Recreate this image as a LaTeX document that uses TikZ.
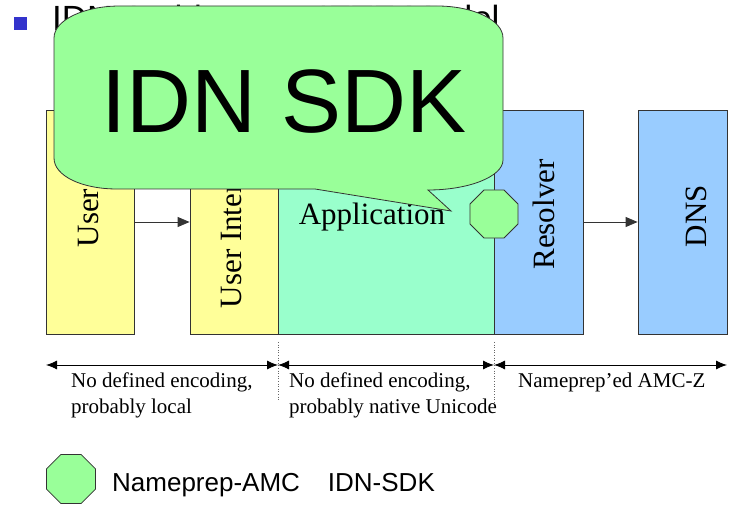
\documentclass[tikz,border=0pt]{standalone}
\usepackage{fontspec}
\setmainfont{Liberation Serif}
\newfontfamily\arialfont{Liberation Sans}
\usepackage{tikz}
\usetikzlibrary{arrows.meta,shapes.geometric}
\definecolor{uiyellow}{HTML}{FFFF99}
\definecolor{appgreen}{HTML}{99FFCC}
\definecolor{netblue}{HTML}{99CCFF}
\definecolor{sdkgreen}{HTML}{99FF99}
\definecolor{bullet}{HTML}{3333CC}
\definecolor{edge}{HTML}{333333}
\tikzset{
  layer/.style={draw=edge, line width=0.8pt, minimum height=224pt, inner sep=0pt},
  boxlab/.style={font=\fontsize{31}{36}\selectfont, inner sep=0pt},
  vlab/.style={boxlab, rotate=90},
  flow/.style={draw=edge, line width=0.8pt, -{Triangle[length=12pt,width=10pt]}},
  span/.style={draw=black, line width=0.9pt, {Latex[length=11pt,width=9pt]}-{Latex[length=11pt,width=9pt]}},
  sep/.style={draw=black!60, dotted, line width=0.6pt},
  enc/.style={font=\fontsize{21}{26}\selectfont, align=left, inner sep=0pt, anchor=base west},
  octa/.style={regular polygon, regular polygon sides=8, draw=edge, line width=0.8pt,
    fill=sdkgreen, inner sep=0pt, minimum size=52pt},
  callout/.style={draw=edge, line width=0.8pt, fill=sdkgreen},
}

\begin{document}
\begin{tikzpicture}[x=1pt, y=-1pt]
  \useasboundingbox (0,0) rectangle (732,510);

  % title, mostly covered later
  \node[fill=bullet, inner sep=0pt, minimum size=13pt] (dot) at (20.5,23.5) {};
  \node[anchor=base west, inner sep=0pt, font=\arialfont\fontsize{35}{42}\selectfont]
    (title) at (52,31) {IDN Architecture IETF Model};

  % layers
  \node[layer, fill=uiyellow, minimum width=88pt] (user) at (90,222) {};
  \node[layer, fill=uiyellow, minimum width=88pt] (ui) at (234,222) {};
  \node[layer, fill=appgreen, minimum width=216pt] (app) at (386,222) {};
  \node[layer, fill=netblue, minimum width=89pt] (res) at (538.5,222) {};
  \node[layer, fill=netblue, minimum width=89pt] (dns) at (682.5,222) {};

  \node[vlab] (userlab) at (89,218) {User};
  \node[vlab] (uilab) at (231,220) {User Interface};
  \node[boxlab, anchor=base] (applab) at (372,225) {Application};
  \node[vlab] (reslab) at (544,214.5) {Resolver};
  \node[vlab] (dnslab) at (696,216) {DNS};

  \draw[flow] (user.east) -- (ui.west);
  \draw[flow] (res.east) -- (dns.west);

  \node[octa] (amc) at (494,214) {};

  % encoding spans
  \coordinate (s0) at (46,365);
  \coordinate (s1) at (278,365);
  \coordinate (s2) at (494,365);
  \coordinate (s3) at (727,365);
  \draw[span] (s0) -- (s1);
  \draw[span] (s1) -- (s2);
  \draw[span] (s2) -- (s3);
  \draw[sep] (278,342) -- (278,400);
  \draw[sep] (494,342) -- (494,404);

  \node[enc] (enc1) at (71,414) {No defined encoding,\\probably local};
  \node[enc] (enc2) at (289,414) {No defined encoding,\\probably native Unicode};
  \node[enc] (enc3) at (518,388) {Nameprep'ed AMC-Z};

  % legend
  \node[octa, minimum size=53pt] (legamc) at (71,479) {};
  \node[anchor=base west, inner sep=0pt, font=\arialfont\fontsize{26}{30}\selectfont]
    (legtxt) at (112,492) {Nameprep-AMC\hspace{28pt}IDN-SDK};

  % speech bubble
  \draw[callout] (54,38) .. controls (54,20) and (84,6) .. (120,6)
    -- (437,6) .. controls (473,6) and (503,20) .. (503,38)
    -- (503,160) .. controls (503,176.5) and (469,190) .. (428,190)
    -- (451,211) -- (315,189)
    -- (117,189) .. controls (82,189) and (54,176) .. (54,158) -- cycle;
  \node[inner sep=0pt, font=\arialfont\fontsize{90}{96}\selectfont] (sdk) at (284,101.5) {IDN SDK};
\end{tikzpicture}
\end{document}
